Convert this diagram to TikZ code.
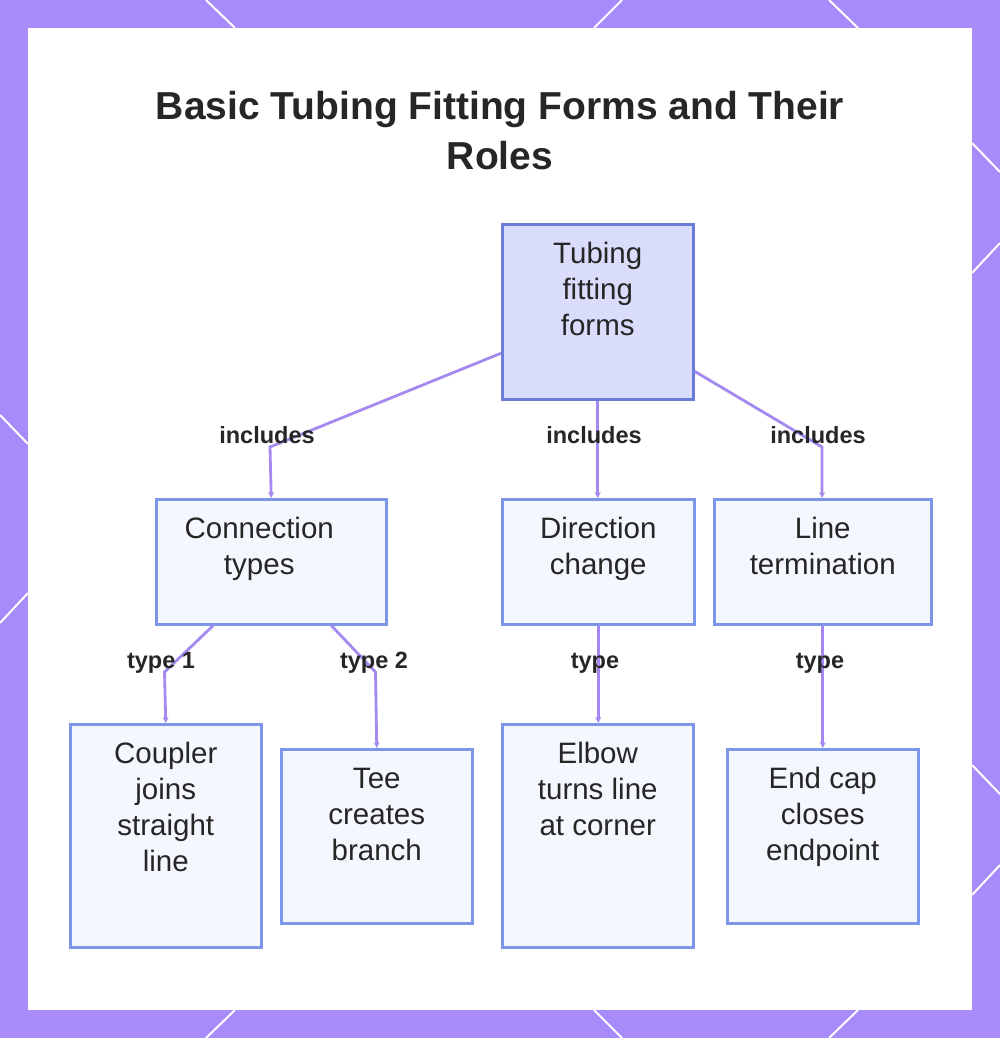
\documentclass[tikz,border=0pt]{standalone}
\usepackage{fontspec}
\setmainfont{Liberation Sans}
\usetikzlibrary{arrows.meta}
\definecolor{framec}{HTML}{A78BFA}
\definecolor{edgec}{HTML}{A48AF0}
\definecolor{rootfill}{HTML}{D9DCFB}
\definecolor{rootdraw}{HTML}{6A7BD8}
\definecolor{leaffill}{HTML}{F5F7FE}
\definecolor{leafdraw}{HTML}{7D97E8}
\definecolor{ink}{HTML}{262626}
\newcommand{\btxt}[3]{\parbox[t][#1][t]{#2}{\centering\rule{0pt}{39pt}#3\par}}
\tikzset{
  fitbox/.style={draw=leafdraw, fill=leaffill, line width=2.5pt, inner sep=0pt,
    anchor=north west, font=\fontsize{29.5}{36}\selectfont, text=ink},
  rootbox/.style={fitbox, draw=rootdraw, fill=rootfill},
  link/.style={draw=edgec, line width=2.8pt, -{Stealth[length=6pt,width=6pt]}},
  elabel/.style={font=\bfseries\fontsize{23.5}{28}\selectfont, text=ink, inner sep=0pt, anchor=base},
  deco/.style={draw=white, line width=2pt}
}
\begin{document}
\begin{tikzpicture}[x=1pt,y=-1pt]
\useasboundingbox (0,0) rectangle (1000,1038);
\fill[framec] (0,0) rectangle (1000,1038);
% frame decoration lines
\draw[deco] (206,0) -- (235,28);
\draw[deco] (622,0) -- (594,28);
\draw[deco] (829,0) -- (858,28);
\draw[deco] (235,1010) -- (206,1038);
\draw[deco] (594,1010) -- (622,1038);
\draw[deco] (858,1010) -- (829,1038);
\draw[deco] (0,415) -- (28,444);
\draw[deco] (28,593) -- (0,623);
\draw[deco] (972,143) -- (1000,172);
\draw[deco] (1000,243) -- (972,273);
\draw[deco] (972,765) -- (1000,794);
\draw[deco] (1000,865) -- (972,895);
% panel
\fill[white] (28,28) rectangle (972,1010);
% title
\node[font=\bfseries\fontsize{39}{50}\selectfont, align=center, text=ink, inner sep=0pt, anchor=north]
  (title) at (500,91) {Basic Tubing Fitting Forms and Their\\Roles};
% nodes
\node[rootbox, minimum width=191pt, minimum height=175pt] (root) at (501,223)
  {\btxt{175pt}{191pt}{Tubing\\fitting\\forms}};
\node[fitbox, minimum width=230pt, minimum height=125pt] (conn) at (155,498)
  {\btxt{125pt}{206pt}{Connection\\types}\kern24pt};
\node[fitbox, minimum width=192pt, minimum height=125pt] (dir) at (501,498)
  {\btxt{125pt}{192pt}{Direction\\change}};
\node[fitbox, minimum width=217pt, minimum height=125pt] (term) at (713,498)
  {\btxt{125pt}{217pt}{Line\\termination}};
\node[fitbox, minimum width=191pt, minimum height=223pt] (coupler) at (69,723)
  {\btxt{223pt}{191pt}{Coupler\\joins\\straight\\line}};
\node[fitbox, minimum width=191pt, minimum height=174pt] (tee) at (280,748)
  {\btxt{174pt}{191pt}{Tee\\creates\\branch}};
\node[fitbox, minimum width=191pt, minimum height=223pt] (elbow) at (501,723)
  {\btxt{223pt}{191pt}{Elbow\\turns line\\at corner}};
\node[fitbox, minimum width=191pt, minimum height=174pt] (endcap) at (726,748)
  {\btxt{174pt}{191pt}{End cap\\closes\\endpoint}};
% bend points
\coordinate (b1) at (270,447);
\coordinate (b2) at (822,447);
\coordinate (b3) at (164.5,672);
\coordinate (b4) at (375.5,672);
% connectors
\draw[link] ([yshift=-41.5pt]root.west) -- (b1) -- (conn.north);
\draw[link] (root.south) -- (root.south |- dir.north);
\draw[link] ([yshift=-59.5pt]root.east) -- (b2) -- (b2 |- term.north);
\draw[link] ([xshift=-58pt]conn.south) -- (b3) -- (coupler.north);
\draw[link] ([xshift=60pt]conn.south) -- (b4) -- (tee.north);
\draw[link] (dir.south) -- (dir.south |- elbow.north);
\draw[link] (term.south) -- (term.south |- endcap.north);
% edge labels
\node[elabel] (l1) at (267,443) {includes};
\node[elabel] (l2) at (594,443) {includes};
\node[elabel] (l3) at (818,443) {includes};
\node[elabel] (l4) at (161,668) {type 1};
\node[elabel] (l5) at (374,668) {type 2};
\node[elabel] (l6) at (595,668) {type};
\node[elabel] (l7) at (820,668) {type};
\end{tikzpicture}
\end{document}
